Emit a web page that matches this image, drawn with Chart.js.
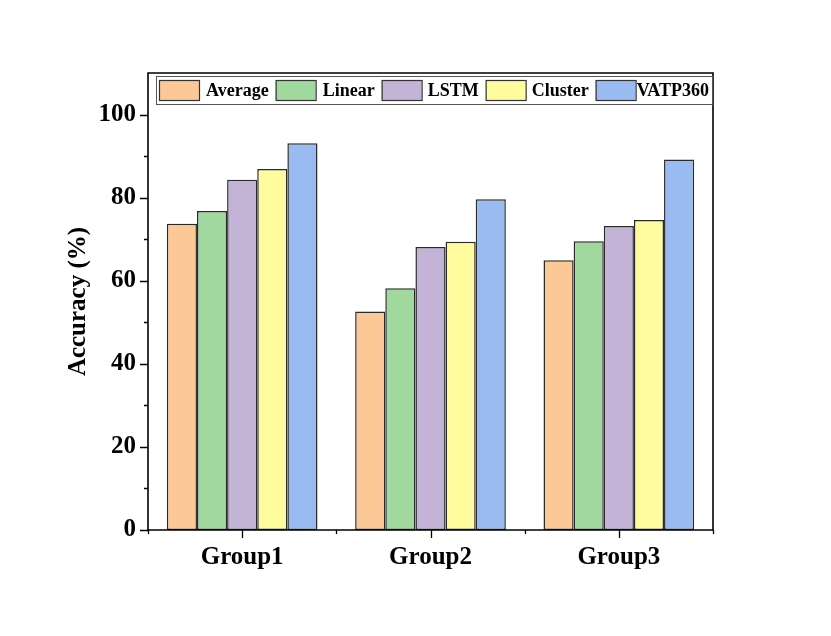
<!DOCTYPE html>
<html>
<head>
<meta charset="utf-8">
<script src="https://cdn.jsdelivr.net/npm/chart.js@4"></script>
<style>
  html, body { margin: 0; padding: 0; background: #fff; }
  #wrap { width: 831px; height: 636px; }
</style>
</head>
<body>
<div id="wrap"><canvas id="chart" width="831" height="636"></canvas></div>
<script>
const groups = ["Group1", "Group2", "Group3"];
const seriesNames = ["Average", "Linear", "LSTM", "Cluster", "VATP360"];
const average = [73.7, 52.6, 64.9];
const linear = [76.8, 58.2, 69.5];
const lstm = [84.3, 68.1, 73.2];
const cluster = [86.9, 69.4, 74.6];
const vatp360 = [93.1, 79.6, 89.2];
const yTicks = [0, 20, 40, 60, 80, 100];

const fills = ["#fcc896", "#a0d89e", "#c2b3d7", "#fffc9e", "#9abbf2"];
const serif = "'Liberation Serif', 'Times New Roman', serif";

// axis ticks (major + minor), frame and boxed legend drawn by hand
const decor = {
  id: "decor",
  afterDraw(chart) {
    const { ctx, chartArea: a, scales } = chart;
    const x = scales.x;
    const y = scales.y;
    ctx.save();
    ctx.strokeStyle = "#000";
    ctx.lineWidth = 1.6;
    ctx.beginPath();
    ctx.moveTo(a.left, a.bottom);
    ctx.lineTo(a.left, a.top);
    ctx.lineTo(a.right, a.top);
    ctx.lineTo(a.right, a.bottom);
    ctx.lineTo(a.left, a.bottom);
    ctx.stroke();

    ctx.lineWidth = 1.3;
    ctx.beginPath();
    for (let v = 0; v <= 100; v += 10) {
      const py = Math.round(y.getPixelForValue(v)) + 0.5;
      const len = v % 20 === 0 ? 8 : 4;
      ctx.moveTo(a.left, py);
      ctx.lineTo(a.left - len, py);
    }
    const step = (a.right - a.left) / groups.length;
    for (let i = 0; i <= groups.length; i++) {
      const px = Math.round(a.left + i * step) + 0.5;
      ctx.moveTo(px, a.bottom);
      ctx.lineTo(px, a.bottom + 4);
    }
    groups.forEach((g, i) => {
      const px = Math.round(x.getPixelForValue(i)) + 0.5;
      ctx.moveTo(px, a.bottom);
      ctx.lineTo(px, a.bottom + 8);
    });
    ctx.stroke();

    // legend
    const lx = 156, ly = 76, lw = 556, lh = 28;
    ctx.strokeStyle = "#555";
    ctx.lineWidth = 1;
    ctx.strokeRect(lx + 0.5, ly + 0.5, lw, lh);
    ctx.font = "bold 18px " + serif;
    ctx.textBaseline = "middle";
    let cx = lx + 3;
    const afterSwatch = [7, 7, 6, 6, 1];
    chart.data.datasets.forEach((ds, i) => {
      ctx.fillStyle = ds.backgroundColor;
      ctx.fillRect(cx, ly + 4, 40, 20);
      ctx.strokeStyle = "#333";
      ctx.lineWidth = 1.2;
      ctx.strokeRect(cx + 0.5, ly + 4.5, 40, 20);
      cx += 40 + afterSwatch[i];
      ctx.fillStyle = "#000";
      ctx.fillText(ds.label, cx, ly + lh / 2 + 1);
      cx += ctx.measureText(ds.label).width + 7;
    });
    ctx.restore();
  },
};

const values = [average, linear, lstm, cluster, vatp360];

new Chart(document.getElementById("chart"), {
  type: "bar",
  data: {
    labels: groups,
    datasets: seriesNames.map((name, i) => ({
      label: name,
      data: values[i],
      backgroundColor: fills[i],
      borderColor: "#2a2a2a",
      borderWidth: 1.5,
      borderSkipped: false,
      categoryPercentage: 0.8,
      barPercentage: 1.0,
    })),
  },
  options: {
    responsive: false,
    animation: false,
    layout: { padding: { top: 73, right: 118, left: 64, bottom: 0 } },
    plugins: {
      legend: { display: false },
      tooltip: { enabled: false },
    },
    scales: {
      x: {
        grid: { display: false },
        border: { display: false },
        ticks: {
          color: "#000",
          padding: 5,
          font: { family: serif, size: 25, weight: "bold" },
        },
        afterFit(scale) { scale.height = 106; },
      },
      y: {
        min: 0,
        max: 110,
        grid: { display: false },
        border: { display: false },
        afterBuildTicks(scale) {
          scale.ticks = yTicks.map((v) => ({ value: v }));
        },
        ticks: {
          color: "#000",
          padding: 4,
          font: { family: serif, size: 25, weight: "bold" },
        },
        title: {
          display: true,
          text: "Accuracy (%)",
          color: "#000",
          padding: 0,
          font: { family: serif, size: 25, weight: "bold" },
        },
        afterFit(scale) { scale.width = 84; },
      },
    },
  },
  plugins: [decor],
});
</script>
</body>
</html>
